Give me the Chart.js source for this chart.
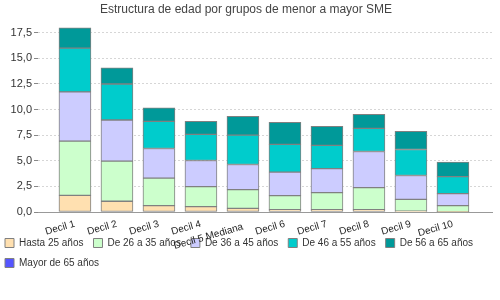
<!DOCTYPE html>
<html>
<head>
<meta charset="utf-8">
<script src="https://cdn.jsdelivr.net/npm/chart.js@4"></script>
<style>
    html, body { margin: 0; padding: 0; background: #fff; }
    #caja { width: 500px; height: 300px; }
</style>
</head>
<body>
<div id="caja"><canvas id="grafico"></canvas></div>
<script>
var titulo = 'Estructura de edad por grupos de menor a mayor SME';
var deciles = ['Decil 1', 'Decil 2', 'Decil 3', 'Decil 4', 'Decil 5 Mediana',
    'Decil 6', 'Decil 7', 'Decil 8', 'Decil 9', 'Decil 10'];
var grupos = ['Hasta 25 años', 'De 26 a 35 años', 'De 36 a 45 años',
    'De 46 a 55 años', 'De 56 a 65 años', 'Mayor de 65 años'];

var hasta25 = [1.63, 1.05, 0.62, 0.52, 0.36, 0.23, 0.23, 0.23, 0.07, 0.02];
var de26a35 = [5.29, 3.92, 2.68, 1.96, 1.83, 1.37, 1.66, 2.15, 1.17, 0.60];
var de36a45 = [4.80, 4.01, 2.90, 2.55, 2.45, 2.29, 2.35, 3.53, 2.32, 1.17];
var de46a55 = [4.28, 3.52, 2.65, 2.55, 2.87, 2.71, 2.26, 2.25, 2.54, 1.67];
var de56a65 = [1.97, 1.57, 1.31, 1.27, 1.83, 2.15, 1.86, 1.37, 1.77, 1.41];
var mayor65 = [0, 0, 0, 0, 0, 0, 0, 0, 0, 0];

var colores = ['#ffe0b0', '#ccffcc', '#ccccff', '#00cccc', '#009999', '#5555ff'];
var ejeYMax = 18.9;

(function () {
    Chart.defaults.font.family = '"Liberation Sans", Arial, sans-serif';

    var series = [hasta25, de26a35, de36a45, de46a55, de56a65, mayor65];

    var datasets = series.map(function (valores, i) {
        return {
            label: grupos[i],
            data: valores.map(function (v, j) { return { x: j, y: v }; }),
            backgroundColor: colores[i],
            borderColor: '#808080',
            borderWidth: 1,
            borderSkipped: false,
            barThickness: 32
        };
    });

    function formatoComa(valor) {
        return valor.toFixed(1).replace('.', ',');
    }

    // la leyenda del original va pegada a la izquierda y mas arriba,
    // montada sobre la zona de las etiquetas del eje X
    var moverLeyenda = {
        id: 'moverLeyenda',
        afterLayout: function (chart) {
            chart.legend.left -= 5;
            chart.legend.right -= 5;
            chart.legend.top -= 22;
            chart.legend.bottom -= 22;
        }
    };

    new Chart(document.getElementById('grafico'), {
        type: 'bar',
        data: { datasets: datasets },
        plugins: [moverLeyenda],
        options: {
            responsive: true,
            maintainAspectRatio: false,
            animation: false,
            layout: { padding: { left: 0, right: 8, top: 0, bottom: 0 } },
            plugins: {
                title: {
                    display: true,
                    text: titulo,
                    color: '#444',
                    font: { size: 12, weight: 'normal' },
                    padding: { top: 2, bottom: 2 }
                },
                legend: {
                    position: 'bottom',
                    align: 'start',
                    labels: {
                        boxWidth: 9,
                        boxHeight: 9,
                        padding: 10,
                        color: '#333',
                        font: { size: 10 }
                    }
                },
                tooltip: { enabled: false }
            },
            scales: {
                x: {
                    type: 'linear',
                    stacked: true,
                    offset: false,
                    min: -0.88,
                    max: 9.93,
                    afterFit: function (s) { s.height = 38; },
                    grid: { display: false, drawTicks: false },
                    border: { display: true, color: '#999', width: 1 },
                    ticks: {
                        stepSize: 1,
                        includeBounds: false,
                        autoSkip: false,
                        minRotation: 16,
                        maxRotation: 16,
                        padding: 6,
                        color: '#222',
                        // la mediana va un poco mas abajo para no pisar "Decil 4"
                        font: function (ctx) {
                            return ctx.index === 4 ? { size: 10, lineHeight: 1.8 } : { size: 10 };
                        },
                        callback: function (v) { return deciles[v]; }
                    }
                },
                y: {
                    stacked: true,
                    min: 0,
                    max: ejeYMax,
                    afterFit: function (s) { s.width = 38; },
                    border: { display: false, dash: [2, 2] },
                    grid: {
                        color: function (ctx) {
                            return ctx.tick && ctx.tick.value === 0 ? 'rgba(0,0,0,0)' : '#d6d6d6';
                        },
                        tickColor: '#888',
                        tickLength: 4,
                        tickBorderDash: []
                    },
                    ticks: {
                        stepSize: 2.5,
                        includeBounds: false,
                        padding: 2,
                        color: '#333',
                        font: { size: 11 },
                        callback: function (v) { return formatoComa(v); }
                    }
                }
            }
        }
    });
})();
</script>
</body>
</html>
